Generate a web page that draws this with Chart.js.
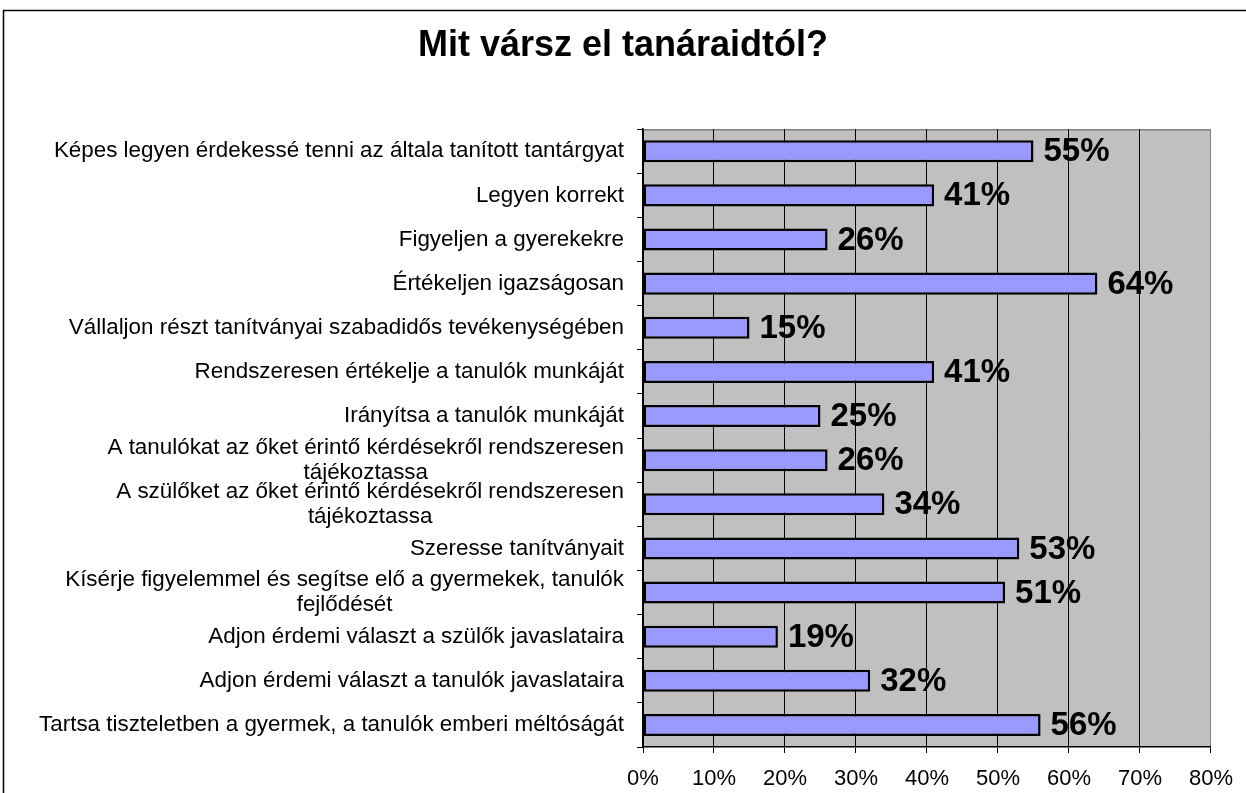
<!DOCTYPE html>
<html>
<head>
<meta charset="utf-8">
<script src="https://cdn.jsdelivr.net/npm/chart.js@4/dist/chart.umd.min.js"></script>
<style>
  html, body { margin: 0; padding: 0; background: #fff; }
  #wrap { width: 1246px; height: 793px; position: relative; }
</style>
</head>
<body>
<div id="wrap"><canvas id="chart"></canvas></div>
<script>
// Data
const chartTitle = 'Mit vársz el tanáraidtól?';
const categories = [
  'Képes legyen érdekessé tenni az általa tanított tantárgyat',
  'Legyen korrekt',
  'Figyeljen a gyerekekre',
  'Értékeljen igazságosan',
  'Vállaljon részt tanítványai szabadidős tevékenységében',
  'Rendszeresen értékelje a tanulók munkáját',
  'Irányítsa a tanulók munkáját',
  ['A tanulókat az őket érintő kérdésekről rendszeresen', 'tájékoztassa'],
  ['A szülőket az őket érintő kérdésekről rendszeresen', 'tájékoztassa'],
  'Szeresse tanítványait',
  ['Kísérje figyelemmel és segítse elő a gyermekek, tanulók', 'fejlődését'],
  'Adjon érdemi választ a szülők javaslataira',
  'Adjon érdemi választ a tanulók javaslataira',
  'Tartsa tiszteletben a gyermek, a tanulók emberi méltóságát'
];
const percentValues = [55, 41, 26, 64, 15, 41, 25, 26, 34, 53, 51, 19, 32, 56];
const axisMin = 0;
const axisMax = 80;
const axisStep = 10;

const FONT = "'Liberation Sans', Arial, sans-serif";

// white page + outer frame line
const framePlugin = {
  id: 'frame',
  beforeDraw(chart) {
    const ctx = chart.ctx;
    ctx.save();
    ctx.fillStyle = '#fff';
    ctx.fillRect(0, 0, chart.width, chart.height);
    ctx.strokeStyle = '#000';
    ctx.lineWidth = 1.5;
    ctx.beginPath();
    ctx.moveTo(3.5, chart.height);
    ctx.lineTo(3.5, 10.5);
    ctx.lineTo(chart.width, 10.5);
    ctx.stroke();
    ctx.restore();
  }
};

// grey plot area
const plotBgPlugin = {
  id: 'plotBg',
  beforeDraw(chart) {
    const { ctx, chartArea: a } = chart;
    ctx.save();
    ctx.fillStyle = '#C0C0C0';
    ctx.fillRect(a.left, a.top, a.right - a.left, a.bottom - a.top);
    ctx.strokeStyle = '#808080';
    ctx.lineWidth = 1.5;
    ctx.beginPath();
    ctx.moveTo(a.left, a.top + 0.5);
    ctx.lineTo(a.right, a.top + 0.5);
    ctx.stroke();
    ctx.restore();
  }
};

// category labels: block right aligned, wrapped lines centred (like Excel)
const catLabelPlugin = {
  id: 'catLabels',
  afterDraw(chart) {
    const { ctx } = chart;
    const yScale = chart.scales.y;
    const rightEdge = chart.chartArea.left - 19;
    const lineH = 25;
    ctx.save();
    ctx.font = '22.4px ' + FONT;
    ctx.fillStyle = '#000';
    ctx.textBaseline = 'middle';
    ctx.textAlign = 'center';
    categories.forEach((lab, i) => {
      const lines = Array.isArray(lab) ? lab : [lab];
      const w = Math.max(...lines.map(l => ctx.measureText(l).width));
      const cx = rightEdge - w / 2;
      const cy = yScale.getPixelForValue(i);
      lines.forEach((l, j) => {
        ctx.fillText(l, cx, cy + (j - (lines.length - 1) / 2) * lineH);
      });
    });
    ctx.restore();
  }
};

// bold percentage labels after each bar
const valueLabelPlugin = {
  id: 'valueLabels',
  afterDatasetsDraw(chart) {
    const { ctx } = chart;
    const meta = chart.getDatasetMeta(0);
    ctx.save();
    ctx.font = 'bold 33px ' + FONT;
    ctx.fillStyle = '#000';
    ctx.textBaseline = 'middle';
    ctx.textAlign = 'left';
    meta.data.forEach((bar, i) => {
      ctx.fillText(percentValues[i] + '%', bar.x + 10, bar.y + 1);
    });
    ctx.restore();
  }
};

new Chart(document.getElementById('chart'), {
  type: 'bar',
  data: {
    labels: categories,
    datasets: [{
      data: percentValues,
      backgroundColor: '#9999FF',
      borderColor: '#000',
      borderWidth: 2.5,
      borderSkipped: false,
      barPercentage: 0.5,
      categoryPercentage: 1.0
    }]
  },
  options: {
    indexAxis: 'y',
    responsive: true,
    maintainAspectRatio: false,
    animation: false,
    layout: { padding: { top: 0, left: 34, right: 34, bottom: 0 } },
    plugins: {
      legend: { display: false },
      tooltip: { enabled: false },
      title: {
        display: true,
        text: chartTitle,
        color: '#000',
        font: { family: FONT, size: 36, weight: 'bold', lineHeight: 1.2 },
        padding: { top: 24, bottom: 62 }
      }
    },
    scales: {
      x: {
        min: axisMin,
        max: axisMax,
        afterFit(scale) { scale.height = 46; },
        ticks: {
          stepSize: axisStep,
          color: '#000',
          font: { family: FONT, size: 22 },
          padding: 13,
          callback: v => v + '%'
        },
        grid: {
          color: ctx => (ctx.tick && ctx.tick.value === axisMax ? '#808080' : '#000'),
          lineWidth: 1,
          tickLength: 6,
          tickColor: '#000'
        },
        border: { display: true, color: '#000', width: 1.5 }
      },
      y: {
        offset: true,
        afterFit(scale) { scale.width = 609; },
        ticks: { display: false },
        grid: {
          drawOnChartArea: false,
          offset: true,
          tickLength: 6,
          color: '#000'
        },
        border: { display: true, color: '#000', width: 1.5 }
      }
    }
  },
  plugins: [framePlugin, plotBgPlugin, catLabelPlugin, valueLabelPlugin]
});
</script>
</body>
</html>
